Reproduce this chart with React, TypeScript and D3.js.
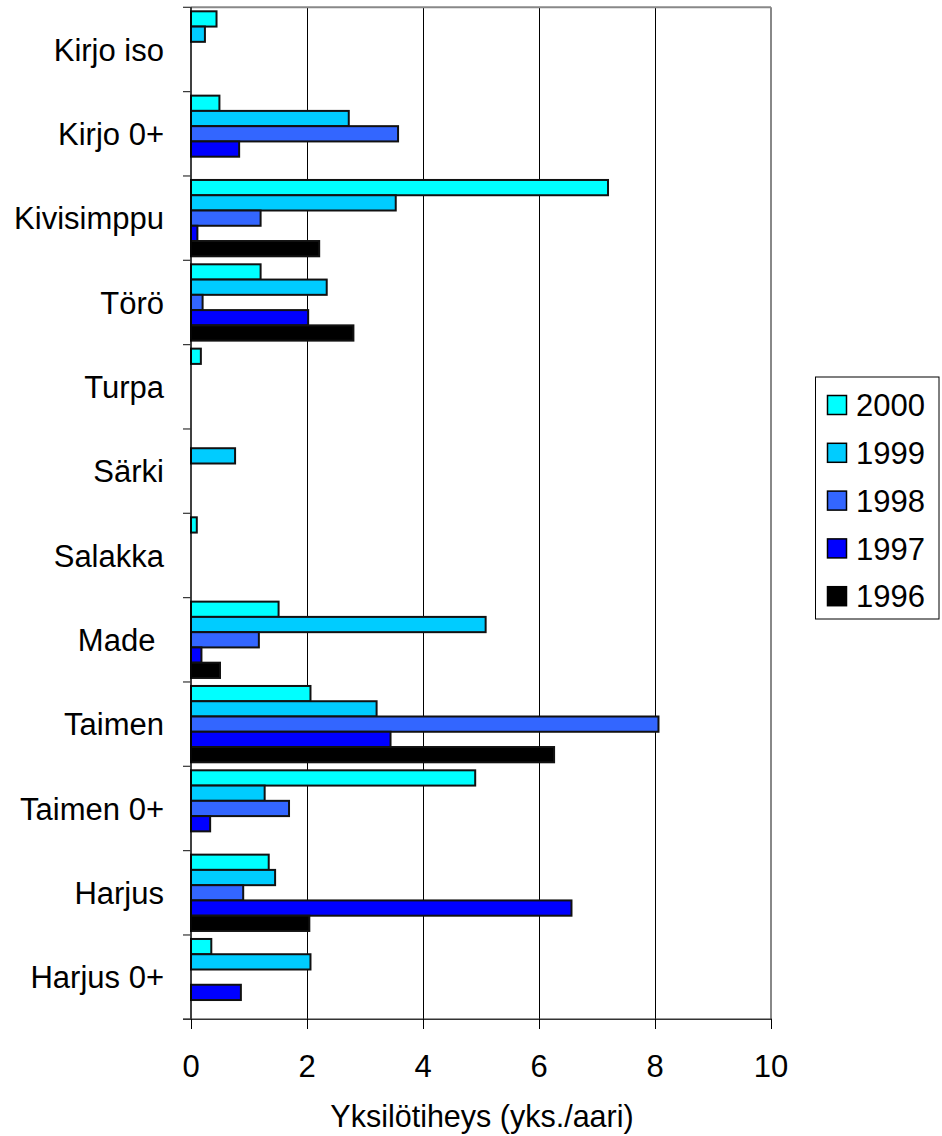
import React from "react";
import * as d3 from "d3";

const categories = [
  "Kirjo iso",
  "Kirjo 0+",
  "Kivisimppu",
  "Törö",
  "Turpa",
  "Särki",
  "Salakka",
  "Made\u00A0",
  "Taimen",
  "Taimen 0+",
  "Harjus",
  "Harjus 0+",
];

const seriesNames = ["2000", "1999", "1998", "1997", "1996"];
const seriesColors = ["#00FFFF", "#00CCFF", "#3366FF", "#0000FF", "#000000"];

const v2000 = [0.44, 0.49, 7.19, 1.2, 0.17, 0, 0.1, 1.51, 2.06, 4.9, 1.34, 0.35];
const v1999 = [0.24, 2.72, 3.53, 2.34, 0, 0.76, 0, 5.08, 3.2, 1.27, 1.45, 2.06];
const v1998 = [0, 3.57, 1.2, 0.2, 0, 0, 0, 1.17, 8.06, 1.69, 0.9, 0];
const v1997 = [0, 0.83, 0.11, 2.02, 0, 0, 0, 0.18, 3.44, 0.33, 6.56, 0.86];
const v1996 = [0, 0, 2.21, 2.8, 0, 0, 0, 0.5, 6.26, 0, 2.04, 0];

const seriesValues = [v2000, v1999, v1998, v1997, v1996];

const xTicks = [0, 2, 4, 6, 8, 10];
const xTitle = "Yksilötiheys (yks./aari)";

const W = 942;
const H = 1136;
const FONT = "'Liberation Sans', Arial, Helvetica, sans-serif";
const FS = 31;

export default function App() {
  const left = 191;
  const right = 771;
  const top = 7.3;
  const bottom = 1019.3;

  const x = d3.scaleLinear().domain([0, 10]).range([left, right]);
  const y = d3.scaleBand<string>().domain(categories).range([top, bottom]).padding(0);
  const bw = y.bandwidth();
  const gap = bw * 0.095;
  const inner = d3
    .scaleBand<string>()
    .domain(seriesNames)
    .range([gap / 2, bw - gap / 2])
    .padding(0);

  const boundaries = d3.range(categories.length + 1).map((i) => top + i * bw);

  const legendX = 815.5;
  const legendTop = 377;
  const legendBottom = 619;
  const legendStep = 47.8;
  const legendFirst = 405;

  return (
    <svg
      width={W}
      height={H}
      style={{ position: "absolute", left: 0, top: 0, background: "#fff" }}
      fontFamily={FONT}
    >
      <rect x={0} y={0} width={W} height={H} fill="#fff" />
      {/* grid lines */}
      {xTicks
        .filter((t) => t > 0 && t < 10)
        .map((t) => (
          <line
            key={"g" + t}
            x1={x(t)}
            x2={x(t)}
            y1={top}
            y2={bottom}
            stroke="#000"
            strokeWidth={1}
            shapeRendering="crispEdges"
          />
        ))}
      {/* plot border top & right */}
      <line x1={left} x2={right} y1={top} y2={top} stroke="#888" strokeWidth={2} />
      <line x1={right} x2={right} y1={top} y2={bottom} stroke="#888" strokeWidth={2} />

      {/* bars */}
      {categories.map((c, ci) =>
        seriesNames.map((s, si) => {
          const v = seriesValues[si][ci];
          if (!v) return null;
          const y0 = (y(c) as number) + (inner(s) as number);
          return (
            <rect
              key={c + s}
              x={x(0)}
              y={y0}
              width={x(v) - x(0)}
              height={inner.bandwidth()}
              fill={seriesColors[si]}
              stroke="#111"
              strokeWidth={2}
            />
          );
        })
      )}

      {/* left axis */}
      <line x1={left} x2={left} y1={top} y2={bottom} stroke="#000" strokeWidth={1.5} />
      {boundaries.map((b, i) => (
        <line key={"lt" + i} x1={left - 8} x2={left} y1={b} y2={b} stroke="#333" strokeWidth={1.2} />
      ))}
      {categories.map((c) => (
        <text
          key={"cl" + c}
          x={164}
          y={(y(c) as number) + bw / 2}
          dy="0.36em"
          textAnchor="end"
          fontSize={FS}
          fill="#000"
        >
          {c}
        </text>
      ))}

      {/* bottom axis */}
      <line x1={left - 8} x2={right + 1} y1={bottom} y2={bottom} stroke="#333" strokeWidth={1.5} />
      {xTicks.map((t) => (
        <g key={"xt" + t}>
          <line
            x1={x(t)}
            x2={x(t)}
            y1={bottom}
            y2={bottom + 10}
            stroke="#000"
            strokeWidth={1}
            shapeRendering="crispEdges"
          />
          <text x={x(t)} y={1066} dy="0.36em" textAnchor="middle" fontSize={FS} fill="#000">
            {t}
          </text>
        </g>
      ))}
      <text x={482} y={1127} textAnchor="middle" fontSize={30.5} fill="#000">
        {xTitle}
      </text>

      {/* legend */}
      <rect
        x={legendX}
        y={legendTop}
        width={939 - legendX}
        height={legendBottom - legendTop}
        fill="#fff"
        stroke="#000"
        strokeWidth={1}
      />
      {seriesNames.map((s, i) => {
        const cy = legendFirst + i * legendStep;
        return (
          <g key={"lg" + s}>
            <rect x={827.5} y={cy - 9.5} width={19} height={19} fill={seriesColors[i]} stroke="#000" strokeWidth={1.5} />
            <text x={856} y={cy} dy="0.36em" fontSize={FS} fill="#000">
              {s}
            </text>
          </g>
        );
      })}
    </svg>
  );
}
